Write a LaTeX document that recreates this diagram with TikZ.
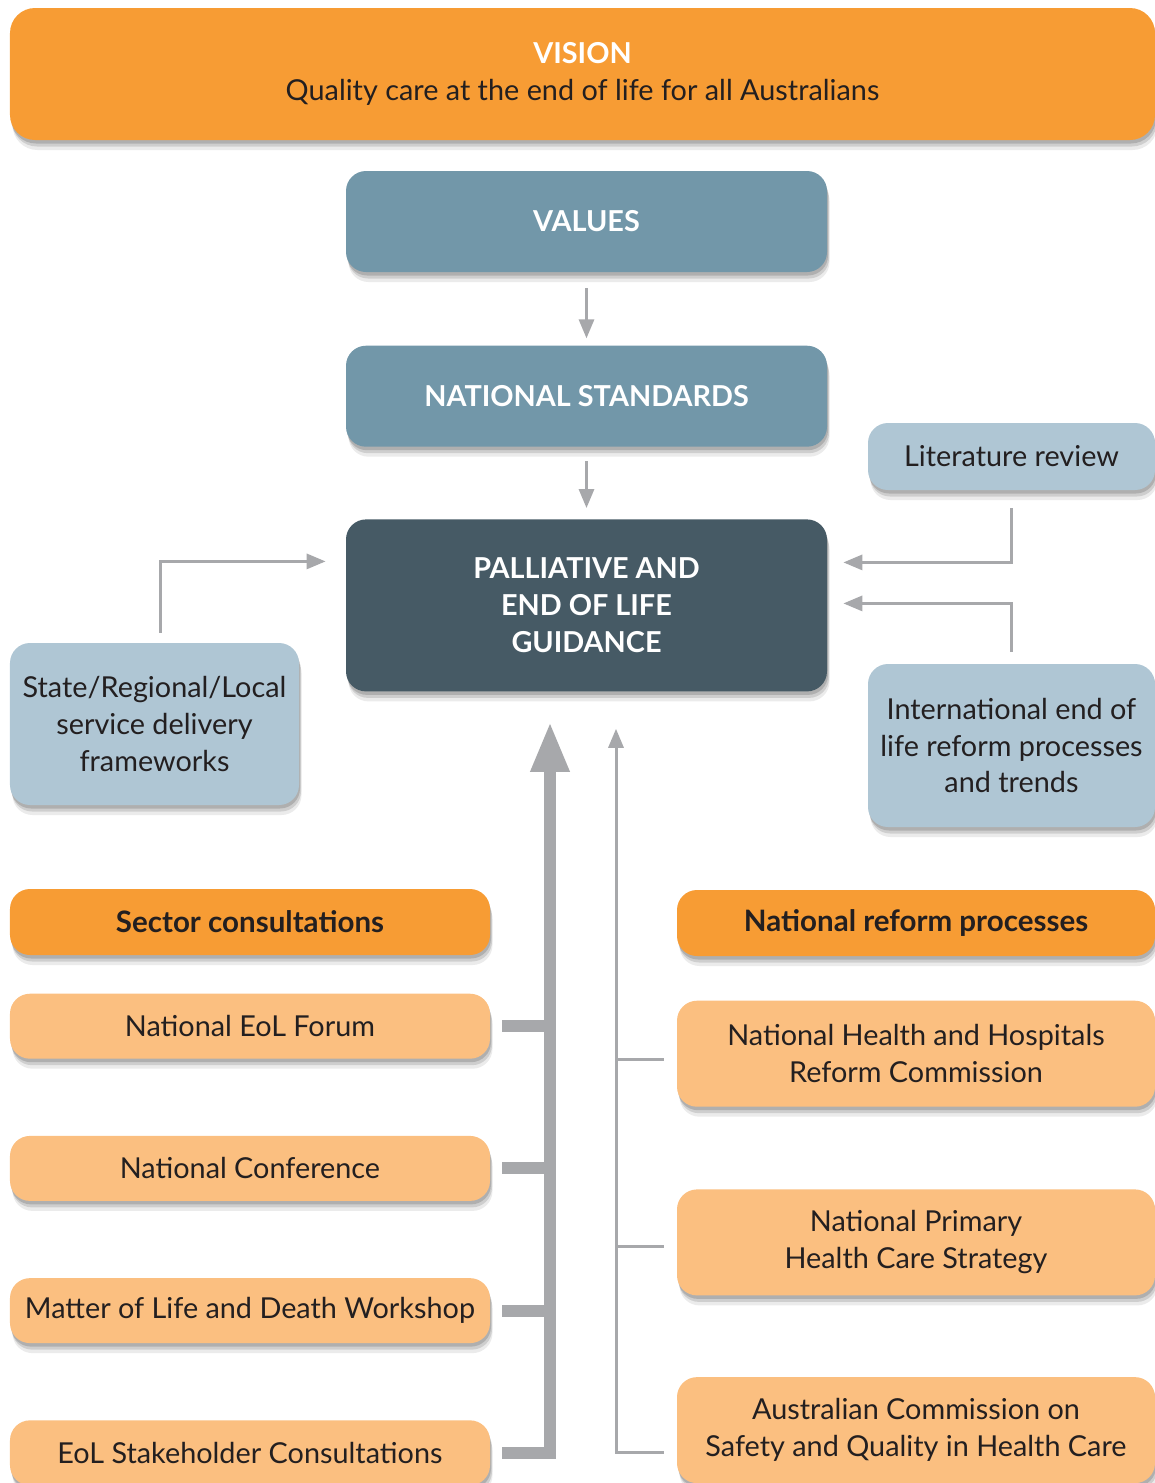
\documentclass[tikz,border=0pt]{standalone}
\usepackage{fontspec}
\setmainfont{Lato}
\usepackage{tikz}
\usetikzlibrary{arrows.meta,shadows,calc,positioning}
\definecolor{naranja}{HTML}{F79C34}
\definecolor{melon}{HTML}{FBBF80}
\definecolor{acero}{HTML}{7297A9}
\definecolor{pizarra}{HTML}{465A65}
\definecolor{celeste}{HTML}{AFC6D4}
\definecolor{gris}{HTML}{A7A8AB}
\definecolor{tinta}{HTML}{231F20}
\tikzset{
	every node/.style={
		font=\fontsize{16.4}{21}\selectfont
	},
	caja/.style={
		shape=rectangle,
		inner sep=0pt,
		rounded corners=0.4cm,
		align=center,
		text=tinta,
		drop shadow={shadow xshift=0.05cm, shadow yshift=-0.2cm, opacity=0.08, fill=black},
		drop shadow={shadow xshift=0.04cm, shadow yshift=-0.13cm, opacity=0.12, fill=black},
		drop shadow={shadow xshift=0.02cm, shadow yshift=-0.07cm, opacity=0.15, fill=black},
	},
	vision/.style={
		caja,
		fill=naranja,
		rounded corners=0.5cm,
		minimum width=22.9cm,
		minimum height=2.64cm
	},
	pilar/.style={
		caja,
		fill=acero,
		text=white,
		font=\fontsize{16.4}{21}\selectfont\bfseries,
		minimum width=9.62cm,
		minimum height=2.02cm
	},
	guia/.style={
		caja,
		fill=pizarra,
		text=white,
		font=\fontsize{16.4}{21}\selectfont\bfseries,
		minimum width=9.62cm,
		minimum height=3.44cm
	},
	fuente/.style={
		caja,
		fill=celeste,
		minimum width=5.74cm
	},
	titulo/.style={
		caja,
		fill=naranja,
		font=\fontsize{16.8}{21}\selectfont\bfseries,
		minimum width=9.6cm,
		minimum height=1.32cm
	},
	consulta/.style={
		caja,
		fill=melon,
		minimum width=9.6cm,
		minimum height=1.3cm
	},
	reforma/.style={
		caja,
		fill=melon,
		minimum width=9.56cm,
		minimum height=2.12cm
	},
	flecha/.style={
		draw=gris,
		line width=0.06cm,
		-{Triangle[width=0.3cm,length=0.38cm]}
	},
	tronco/.style={
		draw=gris,
		line width=0.24cm,
		-{Triangle[width=0.72cm,length=1cm]}
	},
	rama/.style={
		draw=gris,
		line width=0.24cm
	},
	hilo/.style={
		draw=gris,
		line width=0.06cm
	}
}

\begin{document}
\begin{tikzpicture}
	\useasboundingbox (0,0) rectangle (23.1,-29.66);

	\node[vision] (vis) at (11.65,-1.48) {{\color{white}\bfseries VISION}\\Quality care at the end of life for all Australians};
	\node[pilar] (val) at (11.73,-4.43) {VALUES};
	\node[pilar] (std) [below=1.46cm of val] {NATIONAL STANDARDS};
	\node[guia] (guide) [below=1.44cm of std] {PALLIATIVE AND\\END OF LIFE\\GUIDANCE};

	\node[fuente, minimum height=1.34cm] (lit) at (20.23,-9.13) {Literature review};
	\node[fuente, minimum height=3.26cm] (intl) at (20.23,-14.91) {International end of\\life reform processes\\and trends};
	\node[fuente, minimum width=5.78cm, minimum height=3.24cm] (state) at (3.09,-14.48) {State/Regional/Local\\service delivery\\frameworks};

	\node[titulo] (sect) at (5.0,-18.44) {Sector consultations};
	\node[consulta] (f1) [below=0.76cm of sect] {National EoL Forum};
	\node[consulta] (f2) [below=1.53cm of f1] {National Conference};
	\node[consulta] (f3) [below=1.53cm of f2] {Matter of Life and Death Workshop};
	\node[consulta] (f4) [below=1.53cm of f3] {EoL Stakeholder Consultations};

	\node[titulo, minimum width=9.56cm] (nrp) at (18.32,-18.46) {National reform processes};
	\node[reforma] (r1) [below=0.88cm of nrp] {National Health and Hospitals\\Reform Commission};
	\node[reforma] (r2) [below=1.64cm of r1] {National Primary\\Health Care Strategy};
	\node[reforma] (r3) [below=1.62cm of r2] {Australian Commission on\\Safety and Quality in Health Care};

	\draw[flecha, shorten <=0.32cm, shorten >=0.14cm] (val) -- (std);
	\draw[flecha, shorten <=0.28cm, shorten >=0.22cm] (std) -- (guide);
	\draw[flecha] ([yshift=-0.36cm]lit.south) |- ([xshift=0.32cm,yshift=0.86cm]guide.east);
	\draw[flecha] ([yshift=0.24cm]intl.north) |- ([xshift=0.32cm,yshift=0.04cm]guide.east);
	\draw[flecha] ([xshift=0.11cm,yshift=0.2cm]state.north) |- ([xshift=-0.4cm,yshift=0.88cm]guide.west);

	\coordinate (spine) at ([xshift=-0.73cm,yshift=-0.6cm]guide.south);
	\coordinate (spine2) at ([xshift=0.59cm,yshift=-0.74cm]guide.south);

	\draw[tronco] ([xshift=0.24cm]f4.east) -| (spine);
	\foreach \f in {f1,f2,f3}
		\draw[rama] ([xshift=0.24cm]\f.east) -- (\f.east -| spine);

	\draw[hilo, -{Triangle[width=0.3cm,length=0.38cm]}] ([xshift=-0.26cm,yshift=-0.45cm]r3.west) -| (spine2);
	\draw[hilo] ([xshift=-0.26cm,yshift=-0.12cm]r1.west) -- ([yshift=-0.12cm]r1.west -| spine2);
	\draw[hilo] ([xshift=-0.26cm,yshift=-0.09cm]r2.west) -- ([yshift=-0.09cm]r2.west -| spine2);
\end{tikzpicture}
\end{document}
